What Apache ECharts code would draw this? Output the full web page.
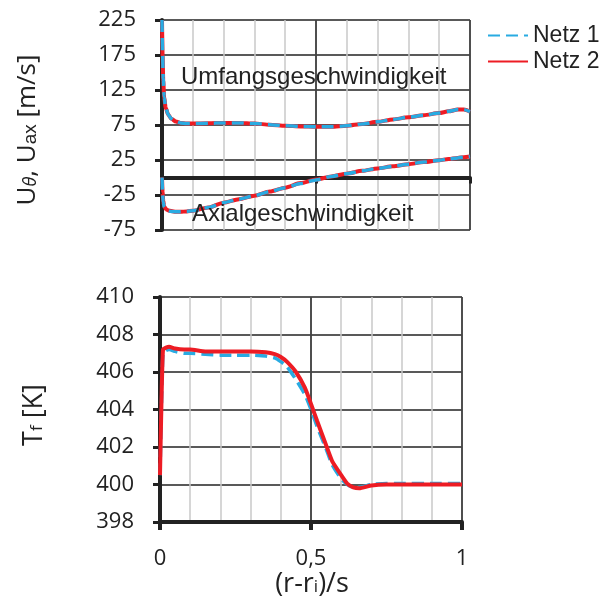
<!DOCTYPE html>
<html>
<head>
<meta charset="utf-8">
<script src="https://cdn.jsdelivr.net/npm/echarts@6/dist/echarts.min.js"></script>
<style>
  html, body { margin: 0; padding: 0; background: #fff; }
  #chart { width: 611px; height: 601px; }
</style>
</head>
<body>
<div id="chart"></div>
<script>
// radial position (r-ri)/s, top panel
const topX = [0, 0.002, 0.004, 0.007, 0.012, 0.02, 0.03, 0.045, 0.06, 0.08, 0.1, 0.15, 0.2, 0.25, 0.3, 0.35, 0.4, 0.45, 0.5, 0.55, 0.6, 0.65, 0.7, 0.75, 0.8, 0.85, 0.9, 0.93, 0.96, 0.98, 1.0]
// circumferential velocity [m/s]
const uTheta1 = [225, 176, 141, 115, 100, 90, 84, 80, 78, 77, 77, 77.5, 78, 78, 77, 75.5, 74, 73, 72.5, 72.5, 74, 76.5, 79.5, 83, 86, 89, 92, 94.5, 97, 97, 94]
const uTheta2 = [225, 174, 139, 114, 99.5, 90, 84, 80, 78, 77, 77, 77.5, 78, 78, 77, 75.5, 74, 73, 72.5, 72.5, 74, 76.5, 79.5, 83, 86, 89, 92, 94.5, 97, 97, 94]
// axial velocity [m/s]
const uAx1 = [0, -23, -35, -42, -45.5, -47.5, -48.5, -49, -49, -48.5, -47.5, -43, -36, -31, -26, -20, -14.5, -8.5, -3.5, 1.5, 5.5, 9.5, 13, 16, 19, 22, 24.5, 26.5, 28, 29, 30]
const uAx2 = [0, -21, -33, -41, -45, -47, -48, -49, -49, -48.5, -47.5, -43, -36, -31, -26, -20, -14.5, -8, -3, 1.5, 5.5, 9.5, 13, 16, 19, 22, 24.5, 26.5, 28, 29, 30]

// bottom panel
const botX = [0, 0.005, 0.01, 0.02, 0.03, 0.05, 0.08, 0.1, 0.15, 0.2, 0.25, 0.3, 0.35, 0.38, 0.4, 0.42, 0.45, 0.48, 0.5, 0.52, 0.55, 0.57, 0.6, 0.62, 0.64, 0.66, 0.7, 0.75, 0.8, 0.9, 1.0]
// fluid temperature [K]
const tf1 = [400.5, 404.3, 407.0, 407.15, 407.2, 407.1, 407.0, 407.0, 406.95, 406.9, 406.9, 406.9, 406.85, 406.75, 406.55, 406.3, 405.6, 404.8, 404.0, 403.1, 401.9, 401.05, 400.3, 400.0, 399.85, 399.85, 400.0, 400.05, 400.05, 400.05, 400.05]
const tf2 = [400.5, 404.5, 407.2, 407.3, 407.35, 407.25, 407.2, 407.2, 407.1, 407.1, 407.1, 407.1, 407.05, 406.95, 406.8, 406.55, 406.0, 405.15, 404.3, 403.4, 402.1, 401.25, 400.5, 400.05, 399.85, 399.8, 399.95, 400, 400, 400, 400]

const pairs = (xs, ys) => xs.map((x, i) => [x, ys[i]])

const BLUE = '#29abe2'
const RED = '#ed1c24'
const INK = '#222'
const LABEL_FONT = '"Open Sans", "Noto Sans", sans-serif'
const ARIAL = '"Liberation Sans", Arial, sans-serif'

function minorX(gridIndex) {
  return {
    type: 'value', gridIndex, min: 0, max: 1, interval: 0.1, position: 'top',
    axisLine: { show: false, onZero: false }, axisTick: { show: false }, axisLabel: { show: false },
    splitLine: { show: true, lineStyle: { color: '#c8c8c8', width: 1.5 } }
  }
}

// top panel keeps monotone smoothing, bottom panel a lighter plain smoothing
function blueLine(name, data, xi, yi, z, mono) {
  return {
    name, type: 'line', data, xAxisIndex: xi, yAxisIndex: yi,
    symbol: 'none', smooth: mono ? 0.25 : 0.15, smoothMonotone: mono ? 'x' : null, z,
    lineStyle: { color: BLUE, width: 3.5, type: [12, 6] },
    itemStyle: { color: BLUE }
  }
}

function redLine(name, data, xi, yi, z, mono) {
  return {
    name, type: 'line', data, xAxisIndex: xi, yAxisIndex: yi,
    symbol: 'none', smooth: mono ? 0.25 : 0.15, smoothMonotone: mono ? 'x' : null, z,
    lineStyle: { color: RED, width: 4 },
    itemStyle: { color: RED }
  }
}

const chart = echarts.init(document.getElementById('chart'))

chart.setOption({
  animation: false,
  backgroundColor: '#fff',
  grid: [
    { left: 162, width: 308, top: 20, height: 210 },
    { left: 160, width: 302, top: 297, height: 225 }
  ],
  legend: {
    data: ['Netz 1', 'Netz 2'],
    orient: 'vertical',
    left: 482, top: 19,
    itemWidth: 40, itemHeight: 14, itemGap: 3,
    itemStyle: { opacity: 0 },
    textStyle: { fontSize: 23, lineHeight: 23, color: INK, fontFamily: ARIAL }
  },
  xAxis: [
    minorX(0),
    {
      type: 'value', gridIndex: 0, min: 0, max: 1, interval: 0.5, position: 'bottom',
      axisLine: { onZero: true, lineStyle: { color: INK, width: 4 } },
      axisTick: { show: true, length: 6, lineStyle: { color: INK, width: 3 } },
      axisLabel: { show: false },
      splitLine: { show: true, lineStyle: { color: INK, width: 1.5 } }
    },
    minorX(1),
    {
      type: 'value', gridIndex: 1, min: 0, max: 1, interval: 0.5, position: 'bottom',
      axisLine: { onZero: false, lineStyle: { color: INK, width: 4 } },
      axisTick: { show: true, length: 8, lineStyle: { color: INK, width: 4 } },
      axisLabel: {
        margin: 26, fontSize: 22, color: INK, fontFamily: LABEL_FONT,
        formatter: v => String(v).replace('.', ',')
      },
      splitLine: { show: true, lineStyle: { color: INK, width: 1.5 } }
    }
  ],
  yAxis: [
    {
      type: 'value', gridIndex: 0, min: -75, max: 225, interval: 50,
      axisLine: { show: true, onZero: false, lineStyle: { color: INK, width: 4 } },
      axisTick: { show: true, length: 7, lineStyle: { color: INK, width: 3 } },
      axisLabel: { margin: 26, fontSize: 22, color: INK, fontFamily: LABEL_FONT },
      splitLine: { show: true, lineStyle: { color: INK, width: 1.5 } }
    },
    {
      type: 'value', gridIndex: 1, min: 398, max: 410, interval: 2,
      axisLine: { show: true, onZero: false, lineStyle: { color: INK, width: 4 } },
      axisTick: { show: true, length: 7, lineStyle: { color: INK, width: 3 } },
      axisLabel: { margin: 26, fontSize: 22, color: INK, fontFamily: LABEL_FONT },
      splitLine: { show: true, lineStyle: { color: INK, width: 1.5 } }
    }
  ],
  series: [
    redLine('Netz 2', pairs(topX, uTheta2), 1, 0, 3, true),
    redLine('Netz 2', pairs(topX, uAx2), 1, 0, 3, true),
    blueLine('Netz 1', pairs(topX, uTheta1), 1, 0, 4, true),
    blueLine('Netz 1', pairs(topX, uAx1), 1, 0, 4, true),
    blueLine('Netz 1', pairs(botX, tf1), 3, 1, 3, false),
    redLine('Netz 2', pairs(botX, tf2), 3, 1, 4, false)
  ],
  graphic: [
    {
      type: 'text', left: 181, top: 65, z: 10,
      style: { text: 'Umfangsgeschwindigkeit', fontSize: 24, fontFamily: ARIAL, fill: INK }
    },
    {
      type: 'text', left: 192, top: 202, z: 10,
      style: { text: 'Axialgeschwindigkeit', fontSize: 24, fontFamily: ARIAL, fill: INK }
    },
    {
      type: 'text', x: 28, y: 130, rotation: Math.PI / 2, z: 10,
      style: {
        text: '{m|U}{s|θ}{m|, U}{a|ax}{m| [m/s]}',
        align: 'center', verticalAlign: 'middle',
        rich: {
          m: { fontSize: 26, fontFamily: LABEL_FONT, fill: INK },
          s: { fontSize: 18, fontFamily: LABEL_FONT, fill: INK, fontStyle: 'italic', padding: [6, 0, 0, 0] },
          a: { fontSize: 19, fontFamily: ARIAL, fill: INK, padding: [5, 0, 0, 0] }
        }
      }
    },
    {
      type: 'text', x: 34, y: 415, rotation: Math.PI / 2, z: 10,
      style: {
        text: '{m|T}{s|f}{m| [K]}',
        align: 'center', verticalAlign: 'middle',
        rich: {
          m: { fontSize: 27, fontFamily: LABEL_FONT, fill: INK },
          s: { fontSize: 17, fontFamily: LABEL_FONT, fill: INK, padding: [7, 0, 0, 0] }
        }
      }
    },
    {
      type: 'text', x: 312, y: 584, z: 10,
      style: {
        text: '{m|(r-r}{s|i}{m|)/s}',
        align: 'center', verticalAlign: 'middle',
        rich: {
          m: { fontSize: 27, fontFamily: LABEL_FONT, fill: INK },
          s: { fontSize: 17, fontFamily: LABEL_FONT, fill: INK, padding: [7, 0, 0, 0] }
        }
      }
    }
  ]
})
</script>
</body>
</html>
